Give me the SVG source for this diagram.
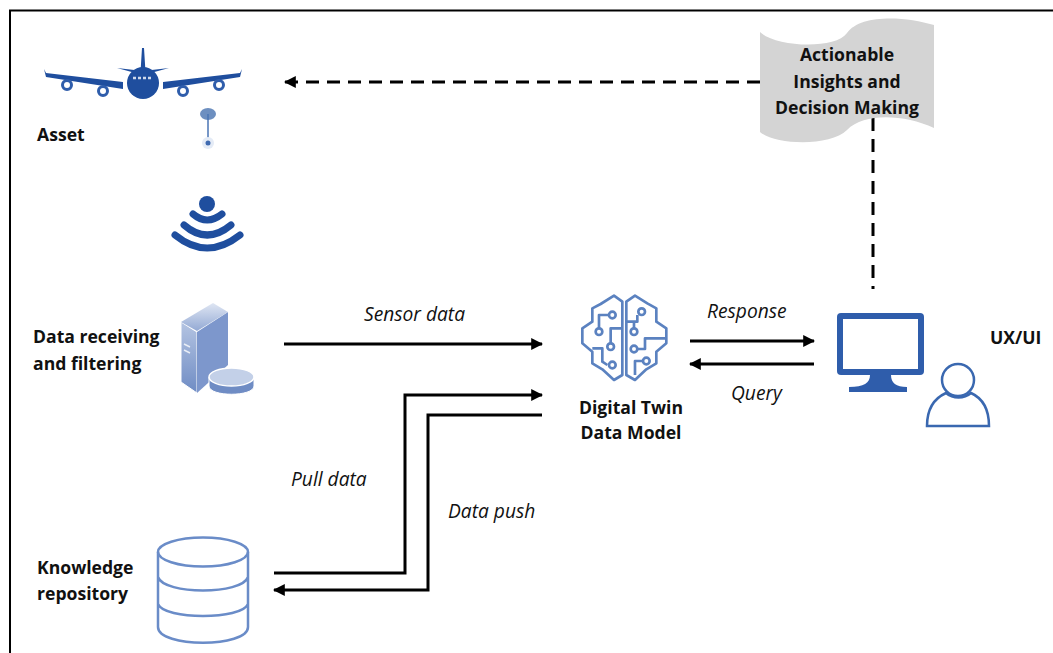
<svg xmlns="http://www.w3.org/2000/svg" width="1053" height="653" viewBox="0 0 1053 653">
<style>
.b{font:700 17.6px "Open Sans",sans-serif;fill:#111;text-anchor:start}
.m{text-anchor:middle}
.i{font:italic 400 19.200px "Open Sans",sans-serif;fill:#111}
.dk{fill:#1f4e9e}
.ln{fill:none;stroke:#5b82c0;stroke-width:8;stroke-linejoin:round}
.k{fill:none;stroke:#000;stroke-width:3}
.d{stroke-dasharray:13 8}
.cyl{fill:none;stroke:#6a8cc8;stroke-width:2.5}
</style>
<defs>
<marker id="a" viewBox="0 0 10 10" refX="9" refY="5" markerWidth="4" markerHeight="4" orient="auto"><path d="M0 0L10 5L0 10Z" fill="#000"/></marker>
<linearGradient id="g1" x1="0" y1="0" x2="0" y2="1"><stop offset="0" stop-color="#b4c4e2"/><stop offset="1" stop-color="#6f8cc4"/></linearGradient>
<linearGradient id="g2" x1="0" y1="0" x2="0" y2="1"><stop offset="0" stop-color="#dfe6f3"/><stop offset="1" stop-color="#93a9d4"/></linearGradient>
</defs>
<rect width="1053" height="653" fill="#fff"/>
<path d="M10 653V10.500H1053" fill="none" stroke="#000" stroke-width="2"/>
<g id="connectors">
<path class="k d" d="M760 82H285" marker-end="url(#a)"/>
<path class="k d" d="M873 118V289"/>
<path class="k" d="M284 344H542" marker-end="url(#a)"/>
<path class="k" d="M690 341H814" marker-end="url(#a)"/>
<path class="k" d="M814 364H690" marker-end="url(#a)"/>
<path class="k" d="M274 573H405V395H542" marker-end="url(#a)"/>
<path class="k" d="M542 415H428V590H274" marker-end="url(#a)"/>
</g>
<g id="asset">
<circle class="dk" cx="143" cy="83" r="16"/>
<path class="dk" d="M142 48h2l1.500 24h-5zM117 68l26 3 26-3-22 6h-8z"/>
<path class="dk" d="M44 69l2 4 77 9v7L46 77zM242 69l-2 4-77 9v7l77-12z"/>
<g fill="#fff" stroke="#2f5dab" stroke-width="3"><circle cx="67" cy="85" r="4.500"/><circle cx="103" cy="91" r="4.500"/><circle cx="183" cy="91" r="4.500"/><circle cx="219" cy="85" r="4.500"/></g>
<path d="M133 78h20" stroke="#cfd9ec" stroke-width="2.500" stroke-dasharray="3 2"/>
<ellipse cx="208" cy="114" rx="8" ry="6" fill="#6d8fc0"/>
<path d="M208 114V142" stroke="#4a74b4" stroke-width="1.500"/>
<circle cx="208" cy="143" r="6" fill="#e4ebf6"/><circle cx="208" cy="143" r="2.500" fill="#3f6ab0"/>
<text class="b" x="37" y="141">Asset</text>
</g>
<g id="wifi">
<circle class="dk" cx="207" cy="204" r="8"/>
<path d="M193 214Q207 226 222 214M184 225Q207 245 231 225M175 235Q207 261 240 235" fill="none" stroke="#1f4e9e" stroke-width="7" stroke-linecap="round"/>
</g>
<g id="data-receiving">
<path d="M181 322L197 332V393L181 382Z" fill="url(#g1)" stroke="#fff"/>
<path d="M197 332L228 312V365L197 393Z" fill="#7d97cc"/>
<path d="M181 322L213 303L228 312L197 331Z" fill="url(#g2)"/>
<path d="M184 344l6 3M184 350l6 3" stroke="#e8edf6" stroke-width="1.500"/>
<path d="M209 377V386C209 397 254 397 254 386V377Z" fill="#6f8cc4" stroke="#fff"/>
<ellipse cx="231.500" cy="377" rx="22.500" ry="9" fill="#c3d0e8" stroke="#fff" stroke-width="1.500"/>
<text class="b" x="33" y="343">Data receiving</text>
<text class="b" x="33" y="370">and filtering</text>
</g>
<g id="digital-twin">
<g transform="translate(559 280) scale(.3333)">
<path class="ln" d="M190 65L165 47L125 72L100 85V125L70 145V190L100 215V250L130 268L165 300L190 285ZM202 65L228 47L265 70L292 85V125L322 145V190L292 215V250L262 268L228 300L202 285Z"/>
<path class="ln" d="M150 105H120V145M155 190V145H190M100 205H130V245L145 255M202 125H235V105M225 145V125M235 207H258V175H322M252 243H228V285"/>
<g class="ln"><circle cx="160" cy="105" r="10"/><circle cx="120" cy="155" r="10"/><circle cx="155" cy="200" r="10"/><circle cx="160" cy="255" r="10"/><circle cx="248" cy="95" r="10"/><circle cx="225" cy="155" r="10"/><circle cx="225" cy="207" r="10"/><circle cx="262" cy="243" r="10"/></g>
</g>
<text class="b m" x="631" y="414">Digital Twin</text>
<text class="b m" x="631" y="439">Data Model</text>
</g>
<g id="ux-ui">
<rect x="837" y="313" width="87" height="62" rx="4" fill="#2f5dab"/>
<rect x="843" y="319" width="75" height="50" fill="#fff"/>
<path d="M870 375H891C891 383 896 387 907 387V392H849V387C864 387 870 383 870 375Z" fill="#2f5dab"/>
<path d="M927 426C927 408 935 398 946 393C953 399 964 399 971 393C982 398 989 408 989 426Z" fill="#fff" stroke="#3a68b0" stroke-width="2.500"/>
<circle cx="958" cy="380" r="16" fill="#fff" stroke="#3a68b0" stroke-width="2.500"/>
<text class="b" x="990" y="344">UX/UI</text>
</g>
<g id="insights">
<path d="M760 32C775 47 835 50 847 33C860 14 905 16 934 25V128C905 115 865 112 847 130C830 147 775 145 760 132Z" fill="#d4d4d4"/>
<text class="b m" x="847" y="61">Actionable</text>
<text class="b m" x="847" y="88">Insights and</text>
<text class="b m" x="847" y="114">Decision Making</text>
</g>
<g id="knowledge">
<ellipse class="cyl" cx="203" cy="552" rx="45" ry="14.500"/>
<path class="cyl" d="M158 552V627C158 648 248 648 248 627V552M158 577C164 595 242 595 248 577M158 604C164 620 242 620 248 604"/>
<text class="b" x="37" y="574">Knowledge</text>
<text class="b" x="37" y="600">repository</text>
</g>
<g id="labels">
<text class="i" x="364" y="321">Sensor data</text>
<text class="i" x="707" y="318">Response</text>
<text class="i" x="731" y="400">Query</text>
<text class="i" x="291" y="486">Pull data</text>
<text class="i" x="448" y="518">Data push</text>
</g>
</svg>
